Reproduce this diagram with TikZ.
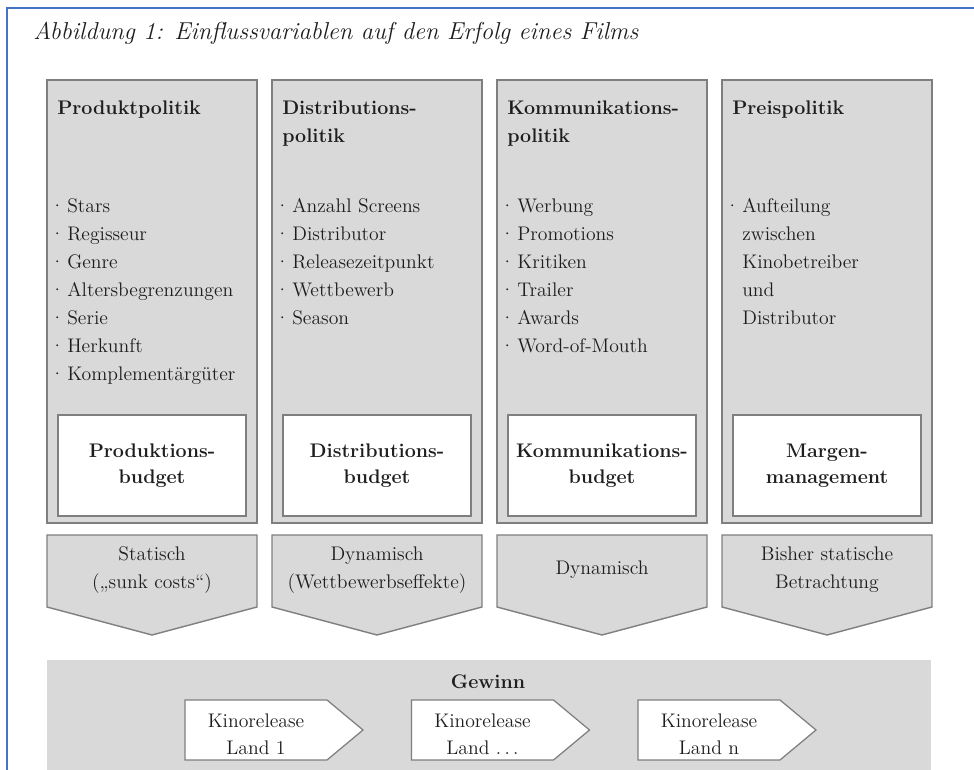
\documentclass[tikz,border=0pt]{standalone}
\usetikzlibrary{positioning}
\definecolor{FigInk}{HTML}{1E1E1E}
\definecolor{FigLine}{HTML}{7F7F7F}
\definecolor{FigGrey}{HTML}{D9D9D9}
\definecolor{FigFrame}{HTML}{4472C4}
% top-aligned lines: the node's base is the baseline of the first line
\newcommand\toplines[1]{\begin{tabular}[t]{@{}l@{}}#1\end{tabular}}
\newcommand\itemdot{\makebox[0.5cm][c]{·}}
\newcommand\itemgap{\hspace*{0.5cm}}
\tikzset{
  every node/.style={font=\fontsize{14}{19.8}\selectfont, text=FigInk, inner sep=0pt},
  frame/.style={draw=FigFrame, line width=1.8pt},
  panel/.style={draw=FigLine, line width=1pt, fill=FigGrey},
  budgetbox/.style={draw=FigLine, line width=1pt, fill=white},
  release/.style={draw=FigLine, line width=0.9pt, fill=white},
  heading/.style={anchor=base west, font=\fontsize{14}{19.8}\selectfont\bfseries},
  itemlist/.style={anchor=base west, font=\fontsize{14}{19.8}\selectfont},
  budgettext/.style={font=\fontsize{14}{18.8}\selectfont\bfseries, align=center},
  effecttext/.style={align=center},
  releasetext/.style={font=\fontsize{14}{19}\selectfont, align=center},
}

\begin{document}
\begin{tikzpicture}[x=1cm,y=1cm]
  % 1cm = 40px of the original figure, y measured from the bottom
  \useasboundingbox (0,0) rectangle (24.35,19.25);
  \draw[frame] (24.35,19.05) -- (0.175,19.05) -- (0.175,0);
  \node[anchor=base west, font=\fontsize{17.4}{20}\selectfont\itshape] (title) at (0.825,18.25)
    {Abbildung 1: Einflussvariablen auf den Erfolg eines Films};
  % Columns: left edge 1.175 + 5.625*i, width 5.25
  \foreach \i/\colhead/\colitems/\colbudget/\coleffect in {
    0/{Produktpolitik}/{\itemdot Stars\\\itemdot Regisseur\\\itemdot Genre\\\itemdot Altersbegrenzungen\\\itemdot Serie\\\itemdot Herkunft\\\itemdot Komplementärgüter}/{Produktions-\\budget}/{Statisch\\(„sunk costs“)},
    1/{Distributions-\\politik}/{\itemdot Anzahl Screens\\\itemdot Distributor\\\itemdot Releasezeitpunkt\\\itemdot Wettbewerb\\\itemdot Season}/{Distributions-\\budget}/{Dynamisch\\(Wettbewerbseffekte)},
    2/{Kommunikations-\\politik}/{\itemdot Werbung\\\itemdot Promotions\\\itemdot Kritiken\\\itemdot Trailer\\\itemdot Awards\\\itemdot Word-of-Mouth}/{Kommunikations-\\budget}/{Dynamisch},
    3/{Preispolitik}/{\itemdot Aufteilung\\\itemgap zwischen\\\itemgap Kinobetreiber\\\itemgap und\\\itemgap Distributor}/{Margen-\\management}/{Bisher statische\\Betrachtung}}{
    \pgfmathsetmacro{\xl}{1.175+5.625*\i}
    \pgfmathsetmacro{\xr}{\xl+5.25}
    \pgfmathsetmacro{\xm}{\xl+2.625}
    \draw[panel] (\xl,6.175) rectangle (\xr,17.25);
    \draw[budgetbox] (\xl+0.275,6.35) rectangle (\xr-0.275,8.875);
    \node[heading] (head\i) at (\xl+0.25,16.375) {\toplines{\colhead}};
    \node[itemlist] (items\i) at (\xl,13.925) {\toplines{\colitems}};
    \node[budgettext] (budget\i) at (\xm,7.6125) {\colbudget};
    % chevron below the column
    \draw[panel] (\xl,5.875) -- (\xr,5.875) -- (\xr,4.075) -- (\xm,3.375) -- (\xl,4.075) -- cycle;
    \node[effecttext] (effect\i) at (\xm,5.0) {\coleffect};
  }
  % Profit band with the release arrows
  \fill[FigGrey] (1.175,0) rectangle (23.275,2.75);
  \node[font=\fontsize{14}{19.8}\selectfont\bfseries] (gewinn) at (12.2,2.2) {Gewinn};
  \foreach \k/\landno in {0/1, 1/{.\,.\,.}, 2/n}{
    \pgfmathsetmacro{\al}{4.625+5.6625*\k}
    \draw[release] (\al,0.25) -- (\al,1.75) -- (\al+3.55,1.75) -- (\al+4.45,1.0) -- (\al+3.55,0.25) -- cycle;
    \node[releasetext] (release\k) at (\al+1.775,0.9) {Kinorelease\\Land \landno};
  }
\end{tikzpicture}
\end{document}
